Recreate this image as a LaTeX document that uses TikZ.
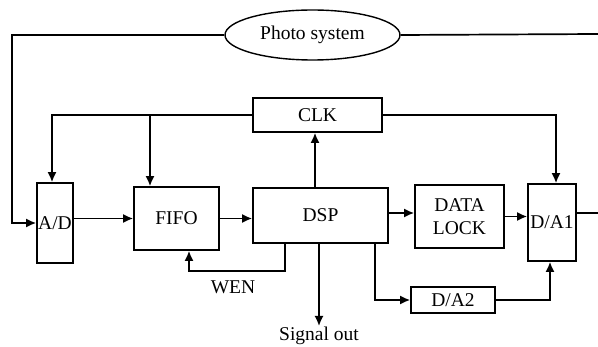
\documentclass[tikz,border=0pt]{standalone}
\usepackage{fontspec}
\setmainfont{Liberation Serif}
\usetikzlibrary{arrows.meta,shapes.geometric}
\begin{document}
\begin{tikzpicture}[x=1pt,y=-1pt,
  every node/.style={font=\fontsize{19.5}{23.5}\selectfont},
  box/.style={draw,line width=1.7pt,inner sep=0pt,align=center},
  ln/.style={line width=1.7pt},
  arr/.style={line width=1.7pt,-{Latex[length=10pt,width=9pt]}},
  lbl/.style={inner sep=1pt}]
\useasboundingbox (0,0) rectangle (598,347);
\node[draw,line width=1.4pt,ellipse,minimum width=175pt,minimum height=50pt,inner sep=0pt] (photo) at (312.5,35) {Photo system};
\node[box,minimum width=129pt,minimum height=34pt] (clk) at (317.5,115) {CLK};
\node[box,minimum width=36pt,minimum height=80pt] (ad) at (55,223) {A/D};
\node[box,minimum width=85pt,minimum height=63pt] (fifo) at (176.5,218.5) {FIFO};
\node[box,minimum width=135pt,minimum height=55pt] (dsp) at (320.5,215.5) {DSP};
\node[box,minimum width=89pt,minimum height=63pt] (dl) at (459.5,216.5) {DATA\\LOCK};
\node[box,minimum width=48pt,minimum height=77pt] (da1) at (552,222.5) {D/A1};
\node[box,minimum width=84pt,minimum height=26pt] (da2) at (453,300) {D/A2};
\node[lbl] (wen) at (233,287) {WEN};
\node[lbl,anchor=north] (sig) at (319,326) {Signal out};
\coordinate (pout) at (598,34);
\coordinate (dout) at (598,213);
% photo system lines
\draw[arr] (photo.west) -| ([xshift=-24pt]ad.west) -- (ad.west);
\draw[ln] (photo.east) -- (pout);
% clock distribution
\draw[arr] (clk.west) -| ([xshift=-3pt]ad.north);
\draw[arr] ([xshift=-26.5pt]fifo.north |- clk.west) -- ([xshift=-26.5pt]fifo.north);
\draw[arr] (clk.east) -| ([xshift=4pt]da1.north);
\draw[arr] ([xshift=-5.5pt]dsp.north) -- ([xshift=-5.5pt]dsp.north |- clk.south);
% data path
\draw[arr] (ad.east |- fifo.west) -- (fifo.west);
\draw[arr] (fifo.east) -- (fifo.east -| dsp.west);
\draw[arr] ([yshift=2.5pt]dsp.east) -- ([yshift=2.5pt]dsp.east -| dl.west);
\draw[arr] (dl.east) -- (dl.east -| da1.west);
\draw[ln] ([yshift=9.5pt]da1.east) -- (dout);
% WEN feedback
\draw[arr] ([xshift=-35.5pt]dsp.south) -- ++(0,27) -| ([xshift=12.5pt]fifo.south);
% signal out
\draw[arr] ([xshift=-1.5pt]dsp.south) -- (sig.north);
% D/A2 path
\draw[arr] ([xshift=54.5pt]dsp.south) |- (da2.west);
\draw[arr] (da2.east) -| ([xshift=-2pt]da1.south);
\end{tikzpicture}
\end{document}
